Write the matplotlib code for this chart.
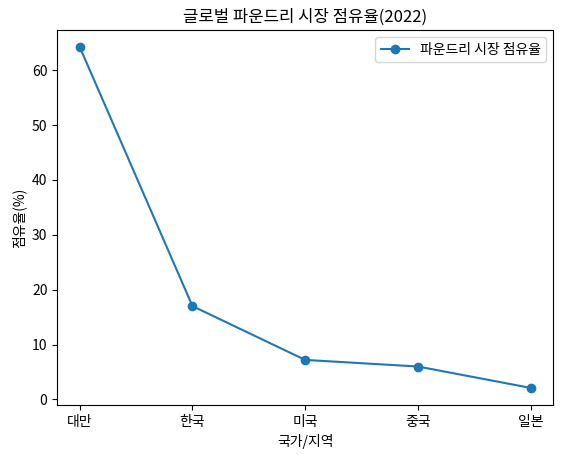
import matplotlib
matplotlib.use('Agg')
import matplotlib.pyplot as plt

plt.rcParams['font.family'] = ['Noto Sans CJK KR', 'DejaVu Sans']

regions = ['대만', '한국', '미국', '중국', '일본']
share = [64.2, 17.0, 7.2, 6.0, 2.1]

fig, ax = plt.subplots(figsize=(5.61, 4.55), dpi=100)
fig.subplots_adjust(left=0.102, right=0.986, top=0.934, bottom=0.110)
ax.plot(regions, share, marker='o', label='파운드리 시장 점유율')
ax.set_title('글로벌 파운드리 시장 점유율(2022)')
ax.set_xlabel('국가/지역')
ax.set_ylabel('점유율(%)')
ax.legend()
fig.savefig('out.png', dpi=100)
